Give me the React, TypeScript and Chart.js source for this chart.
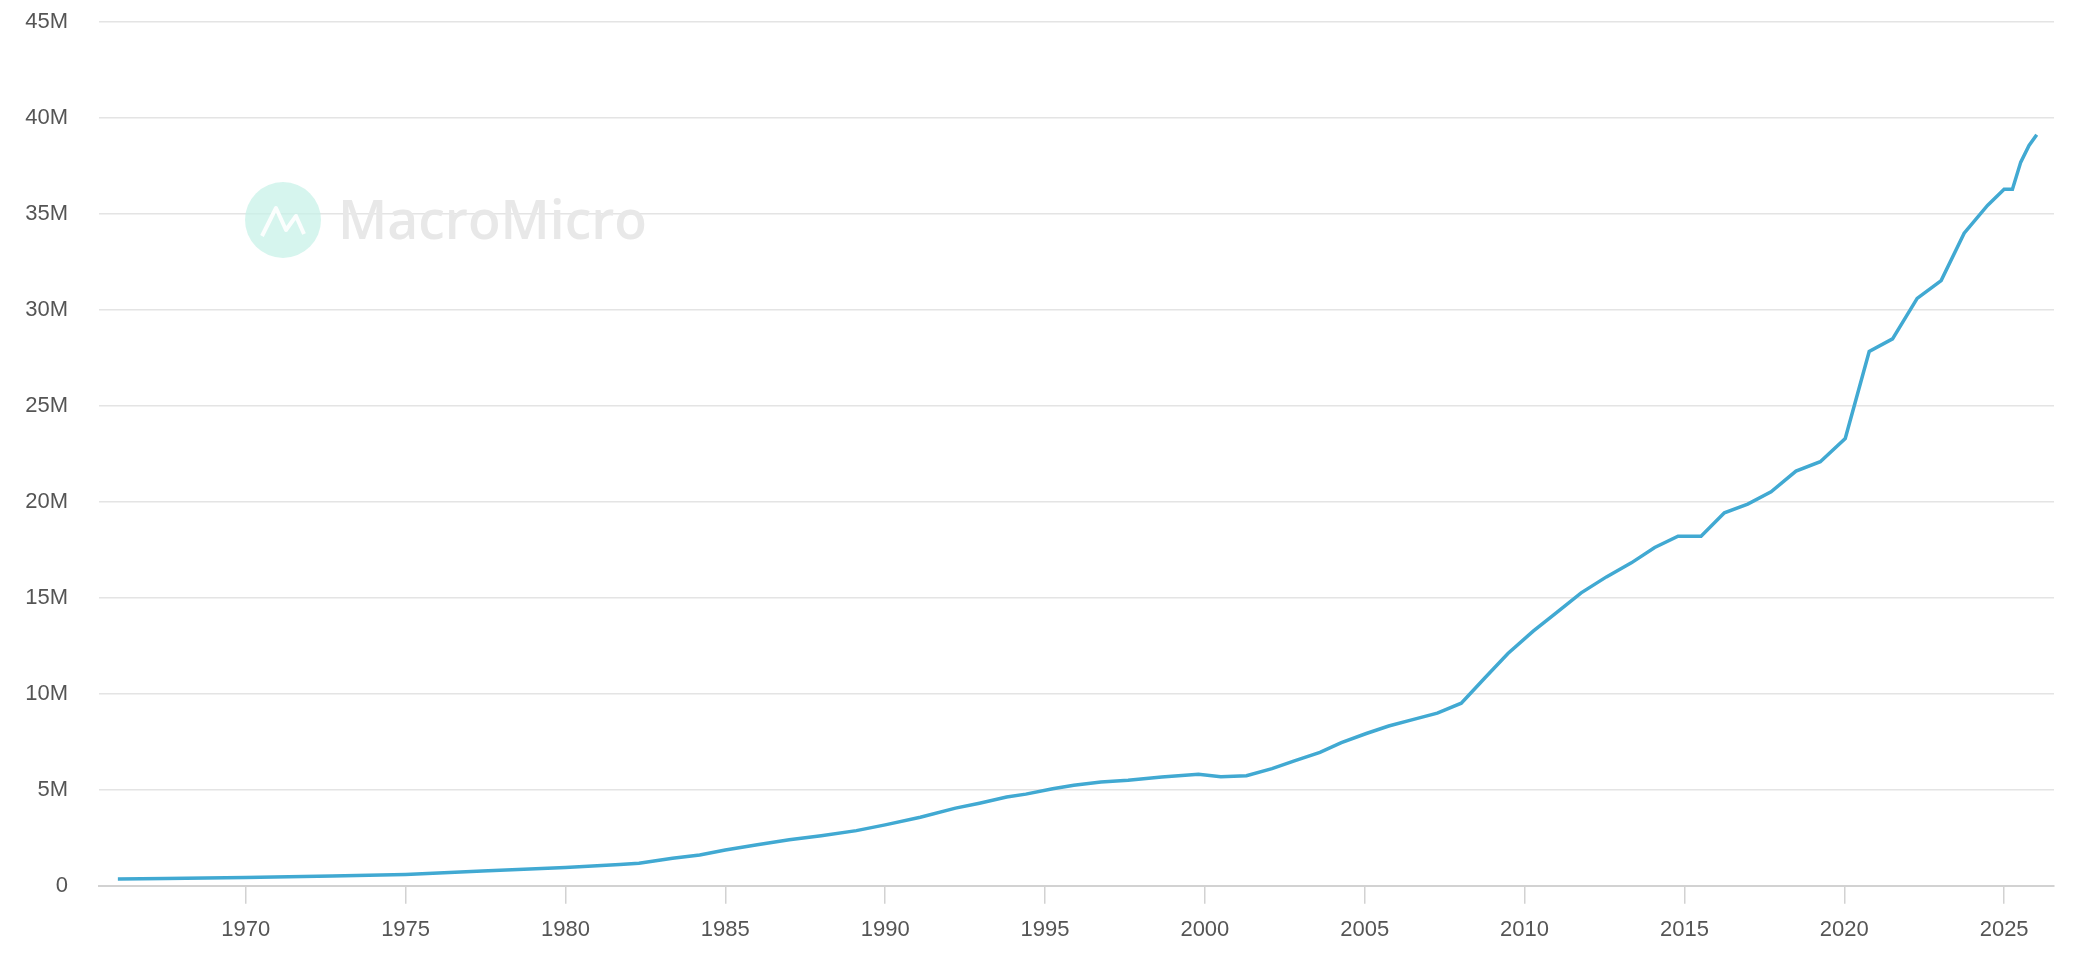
import React, { useEffect, useRef } from "react";
import { Chart, registerables } from "chart.js";

Chart.register(...registerables);

// Time (fractional year) of each observation
const years: number[] = [
  1966.0, 1967.5, 1970.0, 1972.7, 1975.0, 1977.4, 1980.0, 1981.7, 1982.3, 1983.35,
  1984.2, 1985.0, 1986.0, 1987.0, 1988.0, 1989.1, 1990.0, 1991.1, 1992.2, 1992.95,
  1993.8, 1994.4, 1995.24, 1995.9, 1996.75, 1997.6, 1998.65, 1999.8, 2000.5, 2001.3,
  2002.1, 2002.8, 2003.6, 2004.27, 2005.05, 2005.75, 2006.5, 2007.27, 2008.02, 2008.77,
  2009.48, 2010.27, 2010.99, 2011.77, 2012.56, 2013.34, 2014.07, 2014.8, 2015.52, 2016.25,
  2016.98, 2017.71, 2018.49, 2019.25, 2020.03, 2020.78, 2021.51, 2022.28, 2023.03, 2023.75,
  2024.48, 2025.0, 2025.26, 2025.52, 2025.78, 2026.02,
];

// Values in millions
const values: number[] = [
  0.35, 0.37, 0.43, 0.5, 0.59, 0.77, 0.95, 1.1, 1.17, 1.43,
  1.6, 1.86, 2.13, 2.39, 2.6, 2.87, 3.17, 3.57, 4.04, 4.3,
  4.62, 4.77, 5.05, 5.23, 5.4, 5.49, 5.66, 5.8, 5.68, 5.73,
  6.1, 6.5, 6.95, 7.45, 7.93, 8.32, 8.65, 8.99, 9.51, 10.85,
  12.1, 13.26, 14.22, 15.26, 16.09, 16.82, 17.62, 18.21, 18.21, 19.43,
  19.88, 20.52, 21.6, 22.09, 23.3, 27.83, 28.49, 30.6, 31.53, 34.0,
  35.44, 36.28, 36.28, 37.7, 38.57, 39.13,
];

const xTickYears: number[] = [1970, 1975, 1980, 1985, 1990, 1995, 2000, 2005, 2010, 2015, 2020, 2025];
const yTickValues: number[] = [0, 5, 10, 15, 20, 25, 30, 35, 40, 45];

const FONT = "'Liberation Sans', Arial, Helvetica, sans-serif";

const watermark = {
  id: "watermark",
  beforeDatasetsDraw(chart: any) {
    const ctx = chart.ctx as CanvasRenderingContext2D;
    ctx.save();
    // logo circle
    ctx.fillStyle = "rgba(200, 242, 232, 0.75)";
    ctx.beginPath();
    ctx.arc(283, 220, 38, 0, Math.PI * 2);
    ctx.fill();
    ctx.strokeStyle = "rgba(255,255,255,0.9)";
    ctx.lineWidth = 4;
    ctx.lineJoin = "round";
    ctx.beginPath();
    ctx.moveTo(262, 236);
    ctx.lineTo(276, 208);
    ctx.lineTo(286, 230);
    ctx.lineTo(296, 216);
    ctx.lineTo(304, 234);
    ctx.stroke();
    // brand text
    ctx.fillStyle = "#e8e8e8";
    ctx.textBaseline = "alphabetic";
    ctx.textAlign = "left";
    let size = 52;
    ctx.font = `600 ${size}px 'Open Sans', sans-serif`;
    const w = ctx.measureText("MacroMicro").width;
    size = size * (309 / w);
    ctx.font = `600 ${size}px 'Open Sans', sans-serif`;
    ctx.fillText("MacroMicro", 338, 239);
    ctx.restore();
  },
};

export default function App() {
  const ref = useRef<HTMLCanvasElement | null>(null);

  useEffect(() => {
    if (!ref.current) return;
    const data = years.map((x, i) => ({ x, y: values[i] }));
    const chart = new Chart(ref.current, {
      type: "line",
      data: {
        datasets: [
          {
            data,
            borderColor: "#41a9d2",
            borderWidth: 3.5,
            pointRadius: 0,
            pointHoverRadius: 0,
            tension: 0,
            fill: false,
          },
        ],
      },
      options: {
        animation: false,
        responsive: false,
        devicePixelRatio: 1,
        layout: { padding: { top: 22, right: 46, left: 0, bottom: 0 } },
        plugins: { legend: { display: false }, tooltip: { enabled: false } },
        scales: {
          x: {
            type: "linear",
            min: 1965.41,
            max: 2026.56,
            afterBuildTicks: (scale: any) => {
              scale.ticks = xTickYears.map((v) => ({ value: v }));
            },
            afterFit: (scale: any) => {
              scale.height = 94.3;
            },
            grid: {
              drawOnChartArea: false,
              drawTicks: true,
              tickLength: 18,
              color: "#d2d2d2",
              lineWidth: 1.5,
            },
            border: { display: true, color: "#d2d2d2", width: 2 },
            ticks: {
              autoSkip: false,
              maxRotation: 0,
              padding: 13,
              color: "#555555",
              font: { family: FONT, size: 22 },
              callback: (v: any) => String(v),
            },
          },
          y: {
            type: "linear",
            min: 0,
            max: 45,
            afterBuildTicks: (scale: any) => {
              scale.ticks = yTickValues.map((v) => ({ value: v }));
            },
            afterFit: (scale: any) => {
              scale.width = 99;
              scale.paddingTop = 0;
              scale.paddingBottom = 0;
            },
            grid: { color: "#e4e4e4", lineWidth: 1.5, drawTicks: false },
            border: { display: false },
            ticks: {
              padding: 31,
              color: "#555555",
              font: { family: FONT, size: 22 },
              callback: (v: any) => (v === 0 ? "0" : `${v}M`),
            },
          },
        },
      },
      plugins: [watermark],
    });
    return () => chart.destroy();
  }, []);

  return (
    <div style={{ position: "absolute", left: 0, top: 0, width: 2100, height: 980, background: "#fff" }}>
      <canvas ref={ref} width={2100} height={980} style={{ display: "block", width: 2100, height: 980 }} />
    </div>
  );
}
